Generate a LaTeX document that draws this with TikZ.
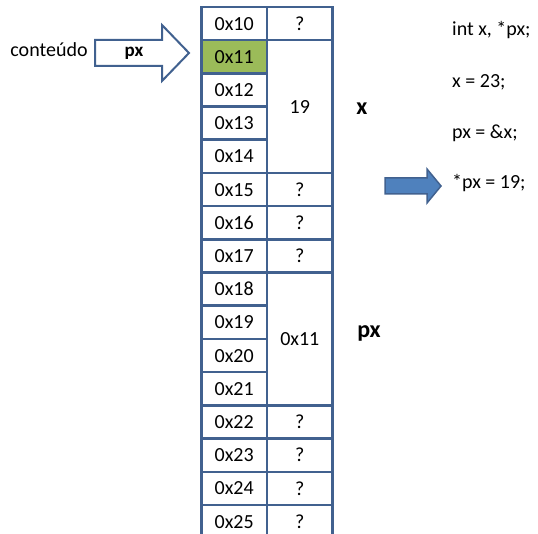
\documentclass[tikz,border=0pt]{standalone}
\usepackage{fontspec}
\setmainfont{Carlito}
\newcommand\myfs{\fontsize{20}{23}\selectfont}
\newcommand\mybig{\fontsize{24}{28}\selectfont\bfseries}
\definecolor{tblue}{HTML}{41618F}
\definecolor{afill}{HTML}{4F81BD}
\definecolor{gfill}{HTML}{9BBB59}
\begin{document}
\begin{tikzpicture}[x=1pt,y=-1pt,
  cell/.style={draw=tblue, line width=2.6pt, minimum width=65.6pt, minimum height=33.2pt, inner sep=0pt, font=\myfs},
  txt/.style={inner sep=0pt, font=\myfs},
  big/.style={inner sep=0pt, font=\mybig}]
\useasboundingbox (0,0) rectangle (538,534);
\clip (0,0) rectangle (538,534);
% address column
\foreach \lab [count=\i from 0] in {10,11,12,13,14,15,16,17,18,19,20,21,22,23,24,25}{
  \node[cell] (a\i) at (234.2, 7+33.2*\i+16.6) {0x\lab};
}
\node[cell, fill=gfill] (a1g) at (a1) {0x11};
% value column
\node[cell] (v0) at (299.8, 7+16.6) {?};
\node[cell, minimum height=132.8pt] (vx) at (299.8, 7+33.2+66.4) {19};
\foreach \i in {5,6,7,12,13,14,15}{
  \node[cell] (v\i) at (299.8, 7+33.2*\i+16.6) {?};
}
\node[cell, minimum height=132.8pt] (vpx) at (299.8, 7+33.2*8+66.4) {0x11};
% labels
\node[big] (lx) at (362,109) {x};
\node[big] (lpx) at (369,333) {px};
\node[txt] (cont) at (49,50) {conteúdo};
% pointer arrow
\draw[draw=tblue, line width=2pt, fill=white, line join=miter]
  (95,40) -- (162,40) -- (162,25) -- (189,53) -- (162,81) -- (162,66) -- (95,66) -- cycle;
\node[txt, font=\fontsize{19}{22}\selectfont\bfseries] (apx) at (134,53) {px};
% code
\node[txt, anchor=west] (c1) at (452,30) {int x, *px;};
\node[txt, anchor=west] (c2) at (452,82) {x = 23;};
\node[txt, anchor=west] (c3) at (452,133) {px = \&x;};
\node[txt, anchor=west] (c4) at (452,183) {*px = 19;};
% current line arrow
\draw[draw=tblue, line width=1.5pt, fill=afill, line join=miter]
  (385,178) -- (427,178) -- (427,169) -- (441,186) -- (427,203) -- (427,194) -- (385,194) -- cycle;
\end{tikzpicture}
\end{document}
